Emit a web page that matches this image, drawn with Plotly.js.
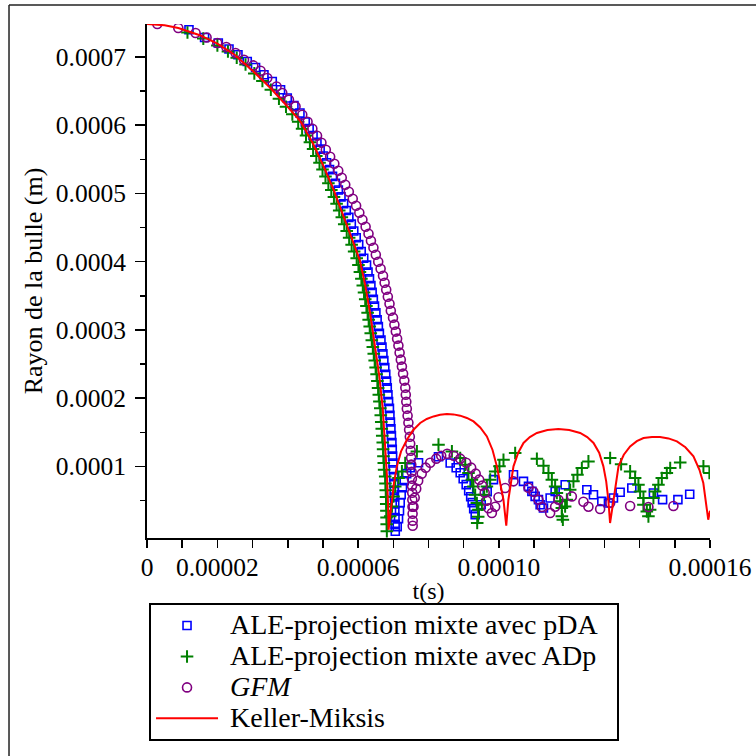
<!DOCTYPE html>
<html>
<head>
<meta charset="utf-8">
<script src="https://cdn.plot.ly/plotly-3.0.1.min.js"></script>
<style>
html,body{margin:0;padding:0;background:#fff;}
#chart{width:756px;height:756px;}
</style>
</head>
<body>
<div id="chart"></div>
<script>
// Units: time in 1e-5 s, radius in 1e-4 m (converted below)
const T_UNIT = 1e-5;
const R_UNIT = 1e-4;

// Keller-Miksis (red line)
const km_t = [0, 0.5, 0.89, 1.5, 2.0, 2.5, 3.0, 3.5, 4.0, 4.36, 4.7, 5.0, 5.3, 5.6, 5.85, 6.05, 6.2, 6.34, 6.48, 6.6, 6.7, 6.77, 6.82, 6.85, 6.865,
  6.91, 6.96, 7.02, 7.10, 7.22, 7.386, 7.56, 7.764, 7.95, 8.142, 8.33, 8.523, 8.71, 8.90, 9.09, 9.28, 9.47, 9.659, 9.82, 9.943, 10.05, 10.13, 10.21,
  10.27, 10.415, 10.55, 10.70, 10.88, 11.08, 11.38, 11.69, 12.0, 12.31, 12.51, 12.69, 12.85, 12.97, 13.05, 13.11, 13.16,
  13.26, 13.40, 13.55, 13.73, 13.92, 14.11, 14.35, 14.58, 14.82, 15.06, 15.3, 15.53, 15.7, 15.81, 15.95, 16.0];
const km_r = [7.484, 7.465, 7.425, 7.32, 7.195, 7.03, 6.80, 6.55, 6.27, 6.056, 5.75, 5.42, 5.06, 4.66, 4.30, 4.02, 3.66, 3.25, 2.78, 2.33, 1.85, 1.35, 0.85, 0.45, 0.07,
  0.27, 0.52, 0.76, 1.0, 1.22, 1.39, 1.53, 1.636, 1.695, 1.732, 1.757, 1.768, 1.762, 1.743, 1.71, 1.659, 1.57, 1.439, 1.24, 1.0, 0.74, 0.511, 0.13,
  0.511, 1.0, 1.20, 1.343, 1.43, 1.489, 1.532, 1.548, 1.532, 1.489, 1.43, 1.343, 1.20, 1.0, 0.78, 0.511, 0.17,
  0.511, 1.0, 1.17, 1.293, 1.37, 1.416, 1.432, 1.43, 1.41, 1.366, 1.28, 1.146, 0.95, 0.756, 0.218, 0.35];

// ALE-projection mixte avec pDA (blue squares)
const pda_t = [1.193, 1.636, 2.026, 2.33, 2.585, 2.849, 3.085, 3.324, 3.56, 3.795, 3.986, 4.176, 4.347,
  4.497, 4.608, 4.719, 4.83, 4.921, 5.012, 5.103, 5.188, 5.272, 5.355, 5.438, 5.513, 5.588, 5.663, 5.737, 5.806, 5.876, 5.945, 6.016, 6.087, 6.159,
  6.239, 6.281, 6.323, 6.363, 6.398, 6.432, 6.466, 6.505, 6.54, 6.575, 6.604, 6.649, 6.678, 6.705, 6.731, 6.758, 6.785, 6.807, 6.828, 6.848,
  6.865, 6.89, 6.904, 6.918, 6.932, 6.946, 6.96, 6.97, 6.98, 6.99, 7.0, 7.01, 7.018, 7.025, 7.033, 7.04, 7.044, 7.048, 7.052, 7.056,
  7.111, 7.148, 7.176, 7.196, 7.224, 7.261, 7.31, 7.381, 7.48, 7.716, 8.284, 8.616, 8.787, 8.901, 8.986, 9.071, 9.142, 9.199, 9.241, 9.284, 9.327,
  9.497, 9.668, 9.847, 10.415, 10.699, 10.841, 10.938, 11.031, 11.125, 11.173, 11.267, 11.457, 11.599, 11.884, 12.5, 12.688, 12.926, 13.114,
  13.256, 13.446, 13.778, 14.392, 14.653, 15.088, 15.423];
const pda_r = [7.40, 7.287, 7.205, 7.117, 7.034, 6.935, 6.847, 6.74, 6.642, 6.52, 6.399, 6.29, 6.179,
  6.05, 5.95, 5.85, 5.75, 5.65, 5.55, 5.45, 5.35, 5.25, 5.15, 5.05, 4.95, 4.85, 4.75, 4.65, 4.55, 4.45, 4.35, 4.25, 4.15, 4.05,
  3.95, 3.85, 3.75, 3.65, 3.55, 3.45, 3.35, 3.25, 3.15, 3.05, 2.95, 2.85, 2.75, 2.65, 2.55, 2.45, 2.35, 2.25, 2.15, 2.05,
  1.95, 1.85, 1.75, 1.65, 1.55, 1.45, 1.35, 1.25, 1.15, 1.05, 0.95, 0.85, 0.75, 0.65, 0.55, 0.45, 0.35, 0.25, 0.15, 0.05,
  0.116, 0.233, 0.350, 0.468, 0.585, 0.688, 0.790, 0.893, 0.980, 1.054, 1.142, 1.049, 0.980, 0.907, 0.819, 0.732, 0.643, 0.555, 0.468, 0.380, 0.292,
  0.438, 0.629, 0.805, 0.878, 0.780, 0.706, 0.633, 0.560, 0.512, 0.438, 0.390, 0.536, 0.633, 0.731, 0.658, 0.585, 0.487, 0.463,
  0.536, 0.621, 0.683, 0.610, 0.512, 0.512, 0.592];

// ALE-projection mixte avec ADp (green plus)
const adp_t = [1.15, 1.6, 2.0, 2.3, 2.55, 2.8, 3.05, 3.28, 3.52, 3.75, 3.95, 4.13,
  4.297, 4.408, 4.519, 4.63, 4.721, 4.812, 4.903, 4.988, 5.072, 5.155, 5.238, 5.313, 5.388, 5.463, 5.537, 5.606, 5.676, 5.745, 5.816, 5.887, 5.959,
  6.009, 6.051, 6.093, 6.133, 6.168, 6.202, 6.236, 6.27, 6.30, 6.33, 6.359, 6.389, 6.418, 6.445, 6.471, 6.498, 6.525, 6.547, 6.568, 6.588,
  6.605, 6.63, 6.644, 6.658, 6.672, 6.686, 6.70, 6.71, 6.72, 6.73, 6.74, 6.77, 6.778, 6.785, 6.793, 6.80, 6.804, 6.808, 6.812, 6.816,
  6.912, 6.960, 7.006, 7.054, 7.148, 7.244, 7.338, 7.670, 8.284, 8.665, 8.901, 9.043, 9.136, 9.233, 9.278, 9.327, 9.375, 9.420, 9.412, 9.384,
  9.517, 9.582, 9.659, 9.753, 9.895, 10.017, 10.131, 10.463, 11.080, 11.267, 11.409, 11.506, 11.599, 11.648, 11.741, 11.790, 11.790, 11.818,
  11.883, 11.932, 12.026, 12.119, 12.233, 12.358, 12.545, 13.162, 13.474, 13.730, 13.872, 13.966, 14.014, 14.108, 14.108, 14.205, 14.250,
  14.298, 14.392, 14.440, 14.534, 14.631, 14.773, 14.869, 15.153, 15.813, 15.983];
const adp_r = [7.36, 7.27, 7.17, 7.08, 6.99, 6.89, 6.76, 6.65, 6.52, 6.39, 6.27, 6.16,
  6.05, 5.95, 5.85, 5.75, 5.65, 5.55, 5.45, 5.35, 5.25, 5.15, 5.05, 4.95, 4.85, 4.75, 4.65, 4.55, 4.45, 4.35, 4.25, 4.15, 4.05,
  3.95, 3.85, 3.75, 3.65, 3.55, 3.45, 3.35, 3.25, 3.15, 3.05, 2.95, 2.85, 2.75, 2.65, 2.55, 2.45, 2.35, 2.25, 2.15, 2.05,
  1.95, 1.85, 1.75, 1.65, 1.55, 1.45, 1.35, 1.25, 1.15, 1.05, 0.95, 0.85, 0.75, 0.65, 0.55, 0.45, 0.35, 0.25, 0.15, 0.05,
  0.267, 0.413, 0.560, 0.706, 0.830, 0.926, 1.049, 1.219, 1.318, 1.219, 1.123, 1.025, 0.903, 0.805, 0.706, 0.585, 0.463, 0.365, 0.262, 0.170,
  0.438, 0.585, 0.706, 0.805, 0.926, 1.0, 1.098, 1.196, 1.112, 1.010, 0.903, 0.805, 0.706, 0.610, 0.487, 0.390, 0.267, 0.218,
  0.413, 0.512, 0.658, 0.780, 0.878, 0.976, 1.073, 1.123, 1.032, 0.926, 0.830, 0.731, 0.633, 0.536, 0.438, 0.340, 0.267,
  0.365, 0.536, 0.633, 0.731, 0.830, 0.903, 0.976, 1.058, 1.0, 0.903];

// GFM (purple circles)
const gfm_t = [0.293, 0.889, 1.381, 1.693, 1.997, 2.253, 2.517, 2.756, 3.020, 3.227, 3.418, 3.682, 3.844, 4.034, 4.222, 4.412,
  4.563, 4.699, 4.832, 4.957, 5.082, 5.205, 5.324, 5.435, 5.534, 5.634, 5.736, 5.847, 5.943, 6.034, 6.122, 6.213, 6.295, 6.364, 6.435,
  6.503, 6.571, 6.639, 6.707, 6.753, 6.798, 6.844, 6.892, 6.929, 6.991, 7.031, 7.071, 7.108, 7.145, 7.179, 7.213, 7.244, 7.278, 7.313,
  7.341, 7.355, 7.369, 7.384, 7.406, 7.429, 7.449, 7.469, 7.480, 7.494, 7.506, 7.511, 7.520, 7.528, 7.531, 7.537, 7.540, 7.545, 7.548, 7.551, 7.551,
  7.574, 7.608, 7.651, 7.707, 7.807, 7.920, 8.048, 8.219, 8.361, 8.531, 8.716, 8.901, 9.071, 9.213, 9.341, 9.440, 9.526, 9.597, 9.653, 9.705,
  9.801, 9.895, 9.989, 10.179, 10.415, 10.841, 10.983, 11.125, 11.222, 11.457, 11.599, 11.693, 12.074, 12.403, 12.545, 12.878, 13.162,
  13.730, 14.250, 14.960];
const gfm_r = [7.484, 7.425, 7.352, 7.287, 7.205, 7.146, 7.059, 6.960, 6.877, 6.799, 6.692, 6.569, 6.472, 6.374, 6.276, 6.154,
  6.052, 5.949, 5.846, 5.744, 5.641, 5.539, 5.436, 5.333, 5.231, 5.128, 5.026, 4.923, 4.820, 4.718, 4.615, 4.513, 4.410, 4.308, 4.205,
  4.102, 4.000, 3.897, 3.795, 3.692, 3.590, 3.487, 3.385, 3.282, 3.180, 3.077, 2.975, 2.872, 2.770, 2.667, 2.564, 2.462, 2.359, 2.257,
  2.153, 2.051, 1.948, 1.845, 1.743, 1.640, 1.537, 1.435, 1.332, 1.229, 1.127, 1.025, 0.922, 0.819, 0.717, 0.614, 0.511, 0.409, 0.306, 0.204, 0.130,
  0.409, 0.541, 0.673, 0.790, 0.893, 0.981, 1.054, 1.113, 1.156, 1.186, 1.156, 1.113, 1.054, 0.981, 0.893, 0.805, 0.717, 0.614, 0.497, 0.387,
  0.317, 0.409, 0.548, 0.683, 0.780, 0.687, 0.629, 0.511, 0.405, 0.317, 0.409, 0.511, 0.560, 0.482, 0.409, 0.375, 0.463,
  0.419, 0.405, 0.419];

// Axis ticks
const xTickVals = [0, 1, 2, 3, 4, 5, 6, 7, 8, 9, 10, 11, 12, 13, 14, 15, 16];
const xTickText = ['0', '', '0.00002', '', '', '', '0.00006', '', '', '', '0.00010', '', '', '', '', '', '0.00016'];
const yTickVals = [1, 2, 3, 4, 5, 6, 7];
const yTickText = ['0.0001', '0.0002', '0.0003', '0.0004', '0.0005', '0.0006', '0.0007'];
const yMinorVals = [0.5, 1.5, 2.5, 3.5, 4.5, 5.5, 6.5];

// Legend labels
const seriesNames = ['ALE-projection mixte avec pDA', 'ALE-projection mixte avec ADp', '<i>GFM</i>', 'Keller-Miksis'];

const sc = (a, u) => a.map(v => v * u);
const FONT = 'Liberation Serif, Times New Roman, serif';
const big = s => '<span style="font-size:28px">\u00A0' + s + '\u00A0\u00A0</span>';

const traces = [
  { x: sc(pda_t, T_UNIT), y: sc(pda_r, R_UNIT), mode: 'markers', type: 'scatter',
    name: big(seriesNames[0]),
    marker: { symbol: 'square-open', size: 8, color: '#0000ff', line: { width: 1.6, color: '#0000ff' } } },
  { x: sc(adp_t, T_UNIT), y: sc(adp_r, R_UNIT), mode: 'markers', type: 'scatter',
    name: big(seriesNames[1]),
    marker: { symbol: 'cross-thin-open', size: 9, color: '#008000', line: { width: 2, color: '#008000' } } },
  { x: sc(gfm_t, T_UNIT), y: sc(gfm_r, R_UNIT), mode: 'markers', type: 'scatter',
    name: big(seriesNames[2]),
    marker: { symbol: 'circle-open', size: 9, color: '#800080', line: { width: 1.6, color: '#800080' } } },
  { x: sc(km_t, T_UNIT), y: sc(km_r, R_UNIT), mode: 'lines', type: 'scatter',
    name: big(seriesNames[3]),
    line: { color: '#ff0000', width: 2 } }
];

const layout = {
  width: 756, height: 756,
  margin: { l: 147, r: 46, t: 24, b: 218 },
  paper_bgcolor: '#ffffff', plot_bgcolor: '#ffffff',
  font: { family: FONT, color: '#000000', size: 24 },
  showlegend: true,
  xaxis: {
    range: [0, 16 * T_UNIT],
    showgrid: false, zeroline: false,
    showline: true, linecolor: '#000000', linewidth: 2,
    ticks: 'outside', ticklen: 8, tickwidth: 1.5, tickcolor: '#000000',
    tickmode: 'array', tickvals: sc(xTickVals, T_UNIT), ticktext: xTickText,
    tickfont: { family: FONT, size: 25.5, color: '#000000' },
    ticklabelstandoff: -3,
    title: { text: 't(s)', font: { family: FONT, size: 24, color: '#000000' }, standoff: 2 }
  },
  yaxis: {
    range: [-0.05 * R_UNIT, 7.484 * R_UNIT],
    showgrid: false, zeroline: false,
    showline: true, linecolor: '#000000', linewidth: 2,
    ticks: 'outside', ticklen: 10, tickwidth: 1.5, tickcolor: '#000000',
    tickmode: 'array', tickvals: sc(yTickVals, R_UNIT), ticktext: yTickText,
    tickfont: { family: FONT, size: 25.5, color: '#000000' },
    ticklabelstandoff: 4,
    minor: { tickmode: 'array', tickvals: sc(yMinorVals, R_UNIT), ticks: 'outside', ticklen: 5, tickwidth: 1.5, tickcolor: '#000000' },
    title: { text: 'Rayon de la bulle (m)', font: { family: FONT, size: 26, color: '#000000' }, standoff: 6 }
  },
  legend: {
    x: 0.0036, xanchor: 'left', y: -0.1265, yanchor: 'top',
    bgcolor: '#ffffff', bordercolor: '#000000', borderwidth: 2,
    font: { family: FONT, size: 21.5, color: '#000000' },
    itemwidth: 62, traceorder: 'normal'
  },
  shapes: [
    { type: 'line', xref: 'paper', yref: 'paper', x0: -0.2451, x1: 1.1, y0: 1.037, y1: 1.037, line: { color: '#222222', width: 1.5 } },
    { type: 'line', xref: 'paper', yref: 'paper', x0: -0.2451, x1: -0.2451, y0: 1.037, y1: -0.5, line: { color: '#222222', width: 1.5 } }
  ]
};

Plotly.newPlot('chart', traces, layout, { displayModeBar: false, staticPlot: true });
</script>
</body>
</html>
